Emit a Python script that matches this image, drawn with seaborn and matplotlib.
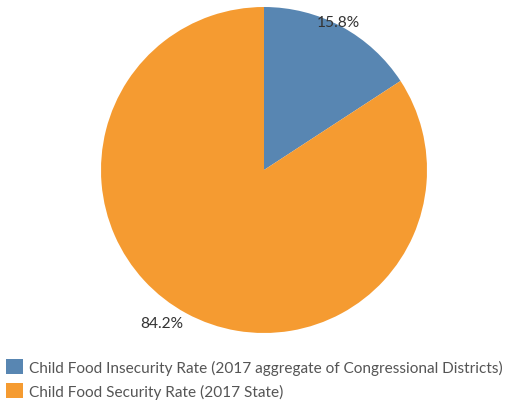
import numpy as np
import matplotlib
matplotlib.use("Agg")
import matplotlib.pyplot as plt
import seaborn as sns

categories = [
    "Child Food Insecurity Rate (2017 aggregate of Congressional Districts)",
    "Child Food Security Rate (2017 State)",
]
values = [15.8, 84.2]
pct_labels = ["15.8%", "84.2%"]
colors = ["#5886b2", "#f59b31"]

sns.set_theme(style="white")
plt.rcParams["font.family"] = ["Lato", "DejaVu Sans"]

fig = plt.figure(figsize=(5.09, 4.02), dpi=100)
ax = fig.add_axes([101 / 509, 68 / 402, 326 / 509, 326 / 402])

wedges, _ = ax.pie(values, colors=colors, startangle=90, counterclock=False,
                   wedgeprops=dict(linewidth=0))
ax.set_aspect("equal")
ax.set_xlim(-1, 1)
ax.set_ylim(-1, 1)
ax.axis("off")

# percent labels outside the slices
label_pos = [(0.454, 0.91), (-0.625, -0.94)]
for (x, y), txt in zip(label_pos, pct_labels):
    ax.text(x, y, txt, ha="center", va="center", fontsize=11.2, color="#333333")

fig.legend(wedges, categories, loc="lower left", bbox_to_anchor=(-0.011, -0.024),
           frameon=False, fontsize=11.1, handlelength=1.1, handleheight=1.1,
           handletextpad=0.4, labelspacing=0.58, borderaxespad=0.3,
           borderpad=0.45, labelcolor="#555555")

fig.savefig("out.png", dpi=100)
